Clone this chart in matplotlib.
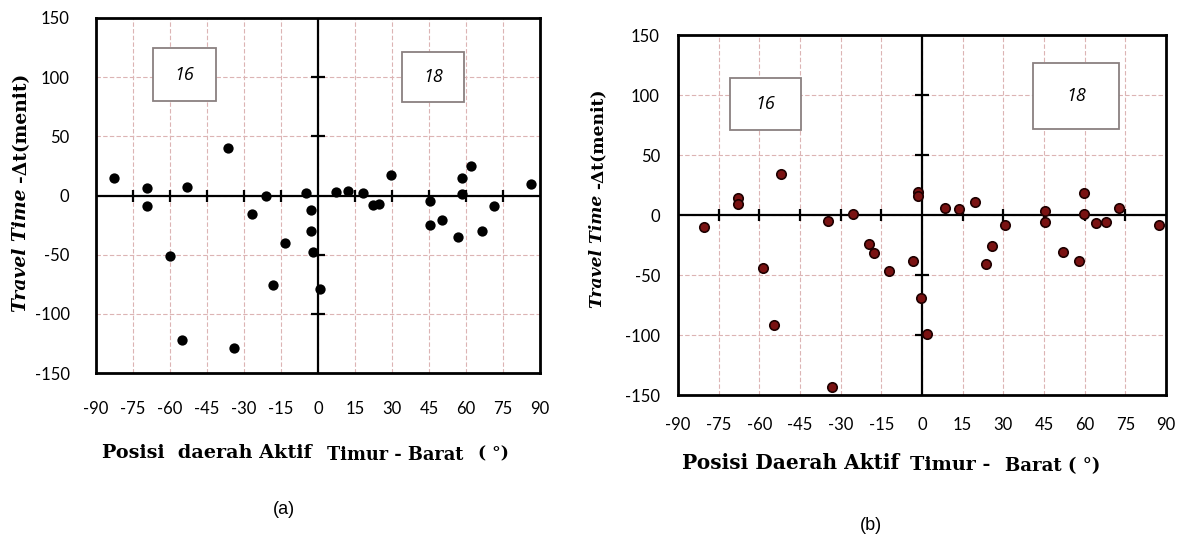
import matplotlib
matplotlib.use("Agg")
import matplotlib.pyplot as plt
from matplotlib.patches import Rectangle

# ---- data (a) ----
a_pos = [-82.8, -69.4, -69.4, -59.9, -55.3, -53.0, -36.3, -33.9, -26.8, -21.0,
         -18.3, -13.5, -4.8, -2.7, -2.7, -2.0, 0.7, 7.4, 12.2, 18.3,
         22.4, 24.8, 29.5, 45.4, 45.4, 50.4, 56.6, 58.3, 58.3, 62.0,
         66.4, 71.5, 86.3]
a_dt = [15, 6, -9, -51, -122, 7, 40, -129, -16, 0,
        -76, -40, 2, -12, -30, -48, -79, 3, 4, 2,
        -8, -7, 17, -5, -25, -21, -35, 1, 15, 25,
        -30, -9, 10]

# ---- data (b) ----
b_pos = [-80.4, -67.7, -67.7, -58.8, -54.7, -51.9, -34.8, -33.3, -25.5, -19.7,
         -17.6, -12.3, -3.5, -1.4, -1.4, -0.2, 2.0, 8.5, 13.5, 19.7,
         23.6, 25.8, 30.6, 45.5, 45.5, 52.0, 58.0, 59.9, 59.9, 64.0,
         68.0, 72.8, 87.6]
b_dt = [-10, 14, 9, -44, -92, 34, -5, -143, 1, -24,
        -32, -47, -38, 19, 16, -69, -99, 6, 5, 11,
        -41, -26, -8, 3, -6, -31, -38, 18, 1, -7,
        -6, 6, -8]

x_ticks = [-90, -75, -60, -45, -30, -15, 0, 15, 30, 45, 60, 75, 90]
y_ticks = [-150, -100, -50, 0, 50, 100, 150]
regions = ["16", "18"]

W, H = 1184, 536
fig = plt.figure(figsize=(W / 100, H / 100), dpi=100)
fig.patch.set_facecolor("white")

tick_font = "Lato"
grid_col = "#dcb4b4"


def px_rect(x0, y0, x1, y1):
    return [x0 / W, 1 - y1 / H, (x1 - x0) / W, (y1 - y0) / H]


def setup(ax, xpad, ypad):
    ax.set_xlim(-90, 90)
    ax.set_ylim(-150, 150)
    ax.set_xticks(x_ticks)
    ax.set_yticks(y_ticks)
    ax.set_xticklabels([str(t) for t in x_ticks], fontfamily=tick_font, fontsize=12)
    ax.set_yticklabels([str(t) for t in y_ticks], fontfamily=tick_font, fontsize=12)
    ax.tick_params(axis="x", length=0, pad=xpad)
    ax.tick_params(axis="y", length=0, pad=ypad)
    ax.grid(True, color=grid_col, linestyle=(0, (4, 2)), linewidth=0.8, zorder=0)
    ax.set_axisbelow(True)
    for s in ax.spines.values():
        s.set_linewidth(2.0)
        s.set_color("black")
    ax.axhline(0, color="black", lw=1.6, zorder=2)
    ax.axvline(0, color="black", lw=1.6, zorder=2)
    inner_x = [t for t in x_ticks if t not in (0, -90, 90)]
    inner_y = [t for t in y_ticks if t not in (0, -150, 150)]
    ax.plot(inner_x, [0] * len(inner_x), linestyle="none", marker="|",
            markersize=9, markeredgewidth=1.6, color="black", zorder=2)
    ax.plot([0] * len(inner_y), inner_y, linestyle="none", marker="_",
            markersize=10, markeredgewidth=1.6, color="black", zorder=2)


def box(ax, x0, y0, x1, y1, label):
    ax.add_patch(Rectangle((x0, y0), x1 - x0, y1 - y0, transform=ax.transAxes,
                           facecolor="white", edgecolor="#8a8080", lw=1.3, zorder=3))
    ax.text((x0 + x1) / 2, (y0 + y1) / 2, label, transform=ax.transAxes,
            ha="center", va="center", fontsize=13, fontstyle="italic",
            fontfamily="Open Sans", zorder=4)


fig.canvas.draw()
renderer = fig.canvas.get_renderer()
serif = "DejaVu Serif"


def ylabel_pair(x, y_bottom, total_len):
    """Two stacked rotated texts sharing one font size, fitted to total_len px."""
    kw1 = dict(fontfamily=serif, fontweight="bold", fontstyle="italic")
    kw2 = dict(fontfamily=serif, fontweight="bold")
    s1, s2 = "Travel Time ", "-\u0394t(menit)"
    t1 = fig.text(0, 0, s1, fontsize=10, rotation=90, **kw1)
    t2 = fig.text(0, 0, s2, fontsize=10, rotation=90, **kw2)
    L = t1.get_window_extent(renderer).height + t2.get_window_extent(renderer).height
    fs = 10 * total_len / L
    t1.set_fontsize(fs)
    t2.set_fontsize(fs)
    h1 = t1.get_window_extent(renderer).height
    t1.set_position((x / W, 1 - y_bottom / H))
    t1.set_ha("center"); t1.set_va("bottom")
    t2.set_position((x / W, 1 - (y_bottom - h1) / H))
    t2.set_ha("center"); t2.set_va("bottom")


def fit_text(x0, y0, s, target, **kw):
    t = fig.text(x0 / W, 1 - y0 / H, s, fontsize=10, ha="left", va="center", **kw)
    bb = t.get_window_extent(renderer)
    fs = 10 * target / bb.width
    t.set_fontsize(fs)
    return fs


def put(x0, y0, s, fs, **kw):
    fig.text(x0 / W, 1 - y0 / H, s, fontsize=fs, ha="left", va="center", **kw)


# ---- panel (a) ----
ax1 = fig.add_axes(px_rect(96, 18, 540, 373))
setup(ax1, xpad=20, ypad=19)
ax1.scatter(a_pos, a_dt, s=55, color="black", zorder=5, linewidths=0)
box(ax1, 0.128, 0.766, 0.270, 0.915, regions[0])
box(ax1, 0.689, 0.763, 0.829, 0.904, regions[1])

# ---- panel (b) ----
ax2 = fig.add_axes(px_rect(678, 35, 1166, 395))
setup(ax2, xpad=16, ypad=13)
ax2.scatter(b_pos, b_dt, s=46, facecolor="#7a1212", edgecolor="#1e0000",
            linewidths=1.2, zorder=5)
box(ax2, 0.107, 0.736, 0.252, 0.881, regions[0])
box(ax2, 0.727, 0.739, 0.904, 0.922, regions[1])

# y labels
ylabel_pair(21, 312, 239)
ylabel_pair(598, 308, 220)

# x labels
bold = dict(fontfamily=serif, fontweight="bold")
fsA = fit_text(102, 453, "Posisi  daerah Aktif", 210, **bold)
put(327, 455, "Timur - Barat", fsA * 0.93, **bold)
put(478, 454, "( \u00b0)", fsA * 0.9, **bold)
fsB = fit_text(682, 463, "Posisi Daerah Aktif", 218, **bold)
put(910, 465, "Timur -", fsB * 0.95, **bold)
put(1005, 466, "Barat ( \u00b0)", fsB * 0.9, **bold)

# captions
fig.text(284 / W, 1 - 510 / H, "(a)", ha="center", va="center",
         fontsize=13, fontfamily="Liberation Sans")
fig.text(871 / W, 1 - 525 / H, "(b)", ha="center", va="center",
         fontsize=13, fontfamily="Liberation Sans")

fig.savefig("out.png", dpi=100, facecolor="white")
